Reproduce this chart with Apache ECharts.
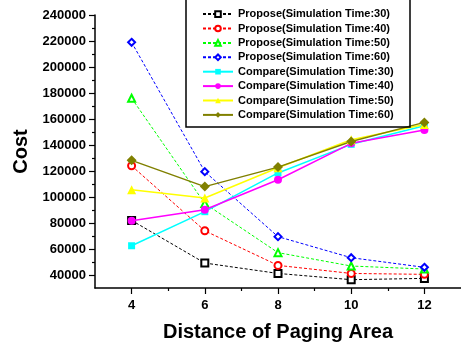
<!DOCTYPE html>
<html>
<head>
<meta charset="utf-8">
<script src="https://cdn.jsdelivr.net/npm/echarts@6/dist/echarts.min.js"></script>
<style>
  html, body { margin: 0; padding: 0; background: #fff; }
  #chart { width: 461px; height: 347px; }
</style>
</head>
<body>
<div id="chart"></div>
<script>
// Distance of paging area (x values)
const distances = [4, 6, 8, 10, 12];

// Cost for the proposed scheme at each simulation time
const propose30 = [82000, 49200, 41200, 36400, 37400];
const propose40 = [124000, 74000, 47400, 41200, 40500];
const propose50 = [176000, 95000, 57200, 46900, 44600];
const propose60 = [219000, 119500, 69500, 53300, 45900];

// Cost for the compared scheme at each simulation time
const compare30 = [62500, 88700, 118500, 140500, 154800];
const compare40 = [81800, 90200, 113300, 141300, 151600];
const compare50 = [105600, 99200, 122500, 144000, 155800];
const compare60 = [128200, 108000, 123000, 142700, 157400];

// Axis tick values
const yMajorTicks = [40000, 60000, 80000, 100000, 120000, 140000, 160000, 180000, 200000, 220000, 240000];
const yMinorTicks = [50000, 70000, 90000, 110000, 130000, 150000, 170000, 190000, 210000, 230000];
const xMajorTicks = [4, 6, 8, 10, 12];
const xMinorTicks = [5, 7, 9, 11];

const FONT = 'Liberation Sans, Arial, sans-serif';

function pairs(ys) { return distances.map((x, i) => [x, ys[i]]); }

function proposeSeries(name, data, color, symbol) {
  return {
    name, type: 'line', data: pairs(data),
    xAxisIndex: 0, yAxisIndex: 0,
    symbol, symbolSize: 7,
    itemStyle: { color: color, borderWidth: 1 },
    lineStyle: { color: color, width: 1, type: [3, 2] },
    emphasis: { disabled: true },
    z: 3
  };
}
function compareSeries(name, data, color, symbol, size) {
  return {
    name, type: 'line', data: pairs(data),
    xAxisIndex: 0, yAxisIndex: 0,
    symbol, symbolSize: size,
    itemStyle: { color: color },
    lineStyle: { color: color, width: 1.5, type: 'solid' },
    emphasis: { disabled: true },
    z: 4
  };
}

const axisLine = { show: true, onZero: false, lineStyle: { color: '#000', width: 1.5 } };

const chart = echarts.init(document.getElementById('chart'), null, { renderer: 'canvas' });
chart.setOption({
  animation: false,
  backgroundColor: '#fff',
  grid: { left: 95, right: -5, top: 15, bottom: 59 },
  xAxis: [
    {
      type: 'value', min: 3, max: 13, interval: 1,
      axisLine: axisLine,
      splitLine: { show: false },
      axisTick: { show: true, inside: false, length: 6, customValues: xMajorTicks, lineStyle: { color: '#000', width: 1.2 } },
      axisLabel: { customValues: xMajorTicks, margin: 11, color: '#000', fontWeight: 'bold', fontSize: 13, fontFamily: FONT },
      name: 'Distance of Paging Area', nameLocation: 'middle', nameGap: 34,
      nameTextStyle: { color: '#000', fontWeight: 'bold', fontSize: 20, fontFamily: FONT }
    },
    {
      type: 'value', min: 3, max: 13, interval: 1, position: 'bottom',
      axisLine: { show: false },
      splitLine: { show: false },
      axisTick: { show: true, length: 3, customValues: xMinorTicks, lineStyle: { color: '#000', width: 1.2 } },
      axisLabel: { show: false }
    }
  ],
  yAxis: [
    {
      type: 'value', min: 30000, max: 240000, interval: 10000,
      axisLine: axisLine,
      splitLine: { show: false },
      axisTick: { show: true, inside: false, length: 6, customValues: yMajorTicks, lineStyle: { color: '#000', width: 1.2 } },
      axisLabel: {
        customValues: yMajorTicks, margin: 9, color: '#000', fontWeight: 'bold', fontSize: 13, fontFamily: FONT,
        formatter: (v) => String(v)
      },
      name: 'Cost', nameLocation: 'middle', nameGap: 62, nameRotate: 90,
      nameTextStyle: { color: '#000', fontWeight: 'bold', fontSize: 20, fontFamily: FONT }
    },
    {
      type: 'value', min: 30000, max: 240000, interval: 10000, position: 'left',
      axisLine: { show: false },
      splitLine: { show: false },
      axisTick: { show: true, length: 3, customValues: yMinorTicks, lineStyle: { color: '#000', width: 1.2 } },
      axisLabel: { show: false }
    }
  ],
  legend: {
    orient: 'vertical', left: 202, top: 7, padding: 0,
    itemWidth: 30, itemHeight: 7, itemGap: 0.2,
    textStyle: { color: '#000', fontWeight: 'bold', fontSize: 11, fontFamily: FONT, lineHeight: 14.2 },
    data: [
      'Propose(Simulation Time:30)', 'Propose(Simulation Time:40)',
      'Propose(Simulation Time:50)', 'Propose(Simulation Time:60)',
      'Compare(Simulation Time:30)', 'Compare(Simulation Time:40)',
      'Compare(Simulation Time:50)', 'Compare(Simulation Time:60)'
    ]
  },
  graphic: [{
    type: 'rect', z: 10, silent: true,
    shape: { x: 186, y: -3, width: 224, height: 130 },
    style: { fill: null, stroke: '#000', lineWidth: 1.5 }
  }],
  series: [
    proposeSeries('Propose(Simulation Time:30)', propose30, '#000000', 'emptyRect'),
    proposeSeries('Propose(Simulation Time:40)', propose40, '#ff0000', 'emptyCircle'),
    proposeSeries('Propose(Simulation Time:50)', propose50, '#00ff00', 'emptyTriangle'),
    proposeSeries('Propose(Simulation Time:60)', propose60, '#0000ff', 'emptyDiamond'),
    compareSeries('Compare(Simulation Time:30)', compare30, '#00ffff', 'rect', 7),
    compareSeries('Compare(Simulation Time:40)', compare40, '#ff00ff', 'circle', 8),
    compareSeries('Compare(Simulation Time:50)', compare50, '#ffff00', 'triangle', 9),
    compareSeries('Compare(Simulation Time:60)', compare60, '#808000', 'diamond', 10)
  ]
});
</script>
</body>
</html>
